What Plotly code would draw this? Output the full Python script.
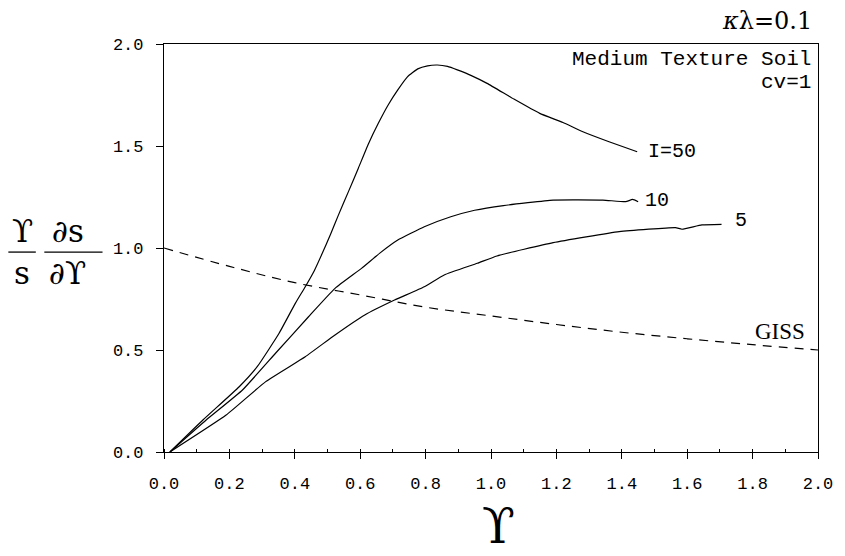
import plotly.graph_objects as go

# ---- data ----
i50_x = [0.018, 0.119, 0.23, 0.285, 0.352, 0.402, 0.432, 0.46, 0.483, 0.51, 0.533, 0.565, 0.594, 0.625, 0.655, 0.685, 0.715, 0.745, 0.776, 0.806, 0.836, 0.867, 0.897, 0.94, 0.988, 1.07, 1.149, 1.22, 1.281, 1.361, 1.447]
i50_y = [0.0, 0.157, 0.32, 0.418, 0.582, 0.73, 0.81, 0.89, 0.97, 1.07, 1.16, 1.28, 1.39, 1.51, 1.61, 1.70, 1.775, 1.84, 1.878, 1.893, 1.897, 1.89, 1.873, 1.845, 1.807, 1.73, 1.66, 1.615, 1.57, 1.521, 1.472]

i10_x = [0.018, 0.129, 0.24, 0.341, 0.442, 0.523, 0.604, 0.66, 0.715, 0.796, 0.877, 0.95, 1.038, 1.19, 1.342, 1.412, 1.433, 1.45]
i10_y = [0.0, 0.157, 0.304, 0.484, 0.663, 0.802, 0.9, 0.975, 1.039, 1.104, 1.153, 1.185, 1.208, 1.235, 1.235, 1.227, 1.238, 1.227]

i5_x = [0.018, 0.19, 0.311, 0.432, 0.523, 0.614, 0.705, 0.796, 0.857, 0.958, 1.018, 1.19, 1.392, 1.564, 1.584, 1.645, 1.705]
i5_y = [0.0, 0.181, 0.345, 0.467, 0.574, 0.672, 0.745, 0.81, 0.868, 0.925, 0.961, 1.026, 1.08, 1.1, 1.092, 1.113, 1.116]

giss_x = [0.0, 0.2, 0.4, 0.6, 0.8, 1.0, 1.2, 1.4, 1.6, 1.8, 2.0]
giss_y = [1.0, 0.91, 0.83, 0.77, 0.71, 0.667, 0.625, 0.587, 0.555, 0.526, 0.50]

x_ticks = [0.0, 0.2, 0.4, 0.6, 0.8, 1.0, 1.2, 1.4, 1.6, 1.8, 2.0]
y_ticks = [0.0, 0.5, 1.0, 1.5, 2.0]

curve_labels = ["I=50", "10", "5", "GISS"]

MONO = "Liberation Mono, Courier New, monospace"
SERIF = "DejaVu Serif, Liberation Serif, serif"

fig = go.Figure()
for xs, ys in [(i50_x, i50_y), (i10_x, i10_y), (i5_x, i5_y)]:
    fig.add_trace(go.Scatter(x=xs, y=ys, mode="lines",
                             line=dict(color="black", width=1.2, shape="spline", smoothing=0.4),
                             showlegend=False, hoverinfo="skip"))
fig.add_trace(go.Scatter(x=giss_x, y=giss_y, mode="lines",
                         line=dict(color="black", width=1.2, dash="9px,7px", shape="spline"),
                         showlegend=False, hoverinfo="skip"))

axis_common = dict(showgrid=False, zeroline=False, showline=True, linecolor="black",
                   linewidth=1.2, mirror=True)

fig.update_layout(
    width=837, height=548,
    margin=dict(l=156, r=21, t=36, b=104),
    paper_bgcolor="white", plot_bgcolor="white",
    xaxis=dict(range=[0, 2], tickvals=x_ticks, ticktext=[f"{v:.1f}" for v in x_ticks],
               ticks="outside", ticklen=6, tickcolor="black", tickwidth=1.2,
               ticklabelstandoff=9,
               tickfont=dict(family=MONO, size=17, color="black"),
               minor=dict(dtick=0.1, ticks="inside", ticklen=3, tickcolor="black"),
               **axis_common),
    yaxis=dict(range=[0, 2], tickvals=y_ticks, ticktext=[f"{v:.1f}" for v in y_ticks],
               ticks="outside", ticklen=7, tickcolor="black", tickwidth=1.2,
               ticklabelstandoff=9,
               tickfont=dict(family=MONO, size=17, color="black"),
               **axis_common),
    xaxis2=dict(range=[0, 2], overlaying="x", anchor="y", side="bottom", tickvals=x_ticks,
                ticks="inside", ticklen=6, tickcolor="black", tickwidth=1.2,
                showticklabels=False, showgrid=False, zeroline=False, showline=False),
    yaxis2=dict(range=[0, 2], overlaying="y", anchor="x", side="left", tickvals=y_ticks,
                ticks="inside", ticklen=6, tickcolor="black", tickwidth=1.2,
                showticklabels=False, showgrid=False, zeroline=False, showline=False),
)

# curve labels
label_pos = [(1.475, 1.475), (1.465, 1.235), (1.74, 1.137), (1.80, 0.593)]
for (lx, ly), txt in zip(label_pos, curve_labels):
    fam, size = MONO, 20
    if txt == "GISS":
        fam, size = "Liberation Serif, serif", 23
    fig.add_annotation(x=lx, y=ly, text=txt, showarrow=False, xanchor="left", yanchor="middle",
                       font=dict(family=fam, size=size, color="black"))

# header texts
fig.add_annotation(xref="paper", yref="paper", x=0.994, y=1.056, text="<i>κ</i>λ=0.1",
                   showarrow=False, xanchor="right", yanchor="middle",
                   font=dict(family=SERIF, size=24, color="black"))
fig.add_annotation(xref="paper", yref="paper", x=0.992, y=0.962, text="Medium Texture Soil",
                   showarrow=False, xanchor="right", yanchor="middle",
                   font=dict(family=MONO, size=21, color="black"))
fig.add_annotation(xref="paper", yref="paper", x=0.992, y=0.905, text="cv=1",
                   showarrow=False, xanchor="right", yanchor="middle",
                   font=dict(family=MONO, size=21, color="black"))

# x-axis title
fig.add_annotation(xref="paper", yref="paper", x=0.512, y=-0.254, text="ϒ",
                   showarrow=False, xanchor="center", yanchor="bottom",
                   font=dict(family=SERIF, size=48, color="black"))

# y-axis title (fraction form)
bar_y = 0.98
fig.add_annotation(xref="paper", yref="y", x=-0.2167, y=bar_y, yshift=1, text="ϒ",
                   showarrow=False, xanchor="center", yanchor="bottom",
                   font=dict(family=SERIF, size=31, color="black"))
fig.add_annotation(xref="paper", yref="y", x=-0.2167, y=bar_y, yshift=-1, text="s",
                   showarrow=False, xanchor="center", yanchor="top",
                   font=dict(family=SERIF, size=31, color="black"))
fig.add_annotation(xref="paper", yref="y", x=-0.147, y=bar_y, yshift=1, text="∂s",
                   showarrow=False, xanchor="center", yanchor="bottom",
                   font=dict(family=SERIF, size=31, color="black"))
fig.add_annotation(xref="paper", yref="y", x=-0.147, y=bar_y, yshift=-1, text="∂ϒ",
                   showarrow=False, xanchor="center", yanchor="top",
                   font=dict(family=SERIF, size=31, color="black"))
fig.add_shape(type="line", xref="paper", yref="y", x0=-0.238, x1=-0.196, y0=bar_y, y1=bar_y,
              line=dict(color="black", width=1.3))
fig.add_shape(type="line", xref="paper", yref="y", x0=-0.183, x1=-0.094, y0=bar_y, y1=bar_y,
              line=dict(color="black", width=1.3))

fig.write_html("out.html")
